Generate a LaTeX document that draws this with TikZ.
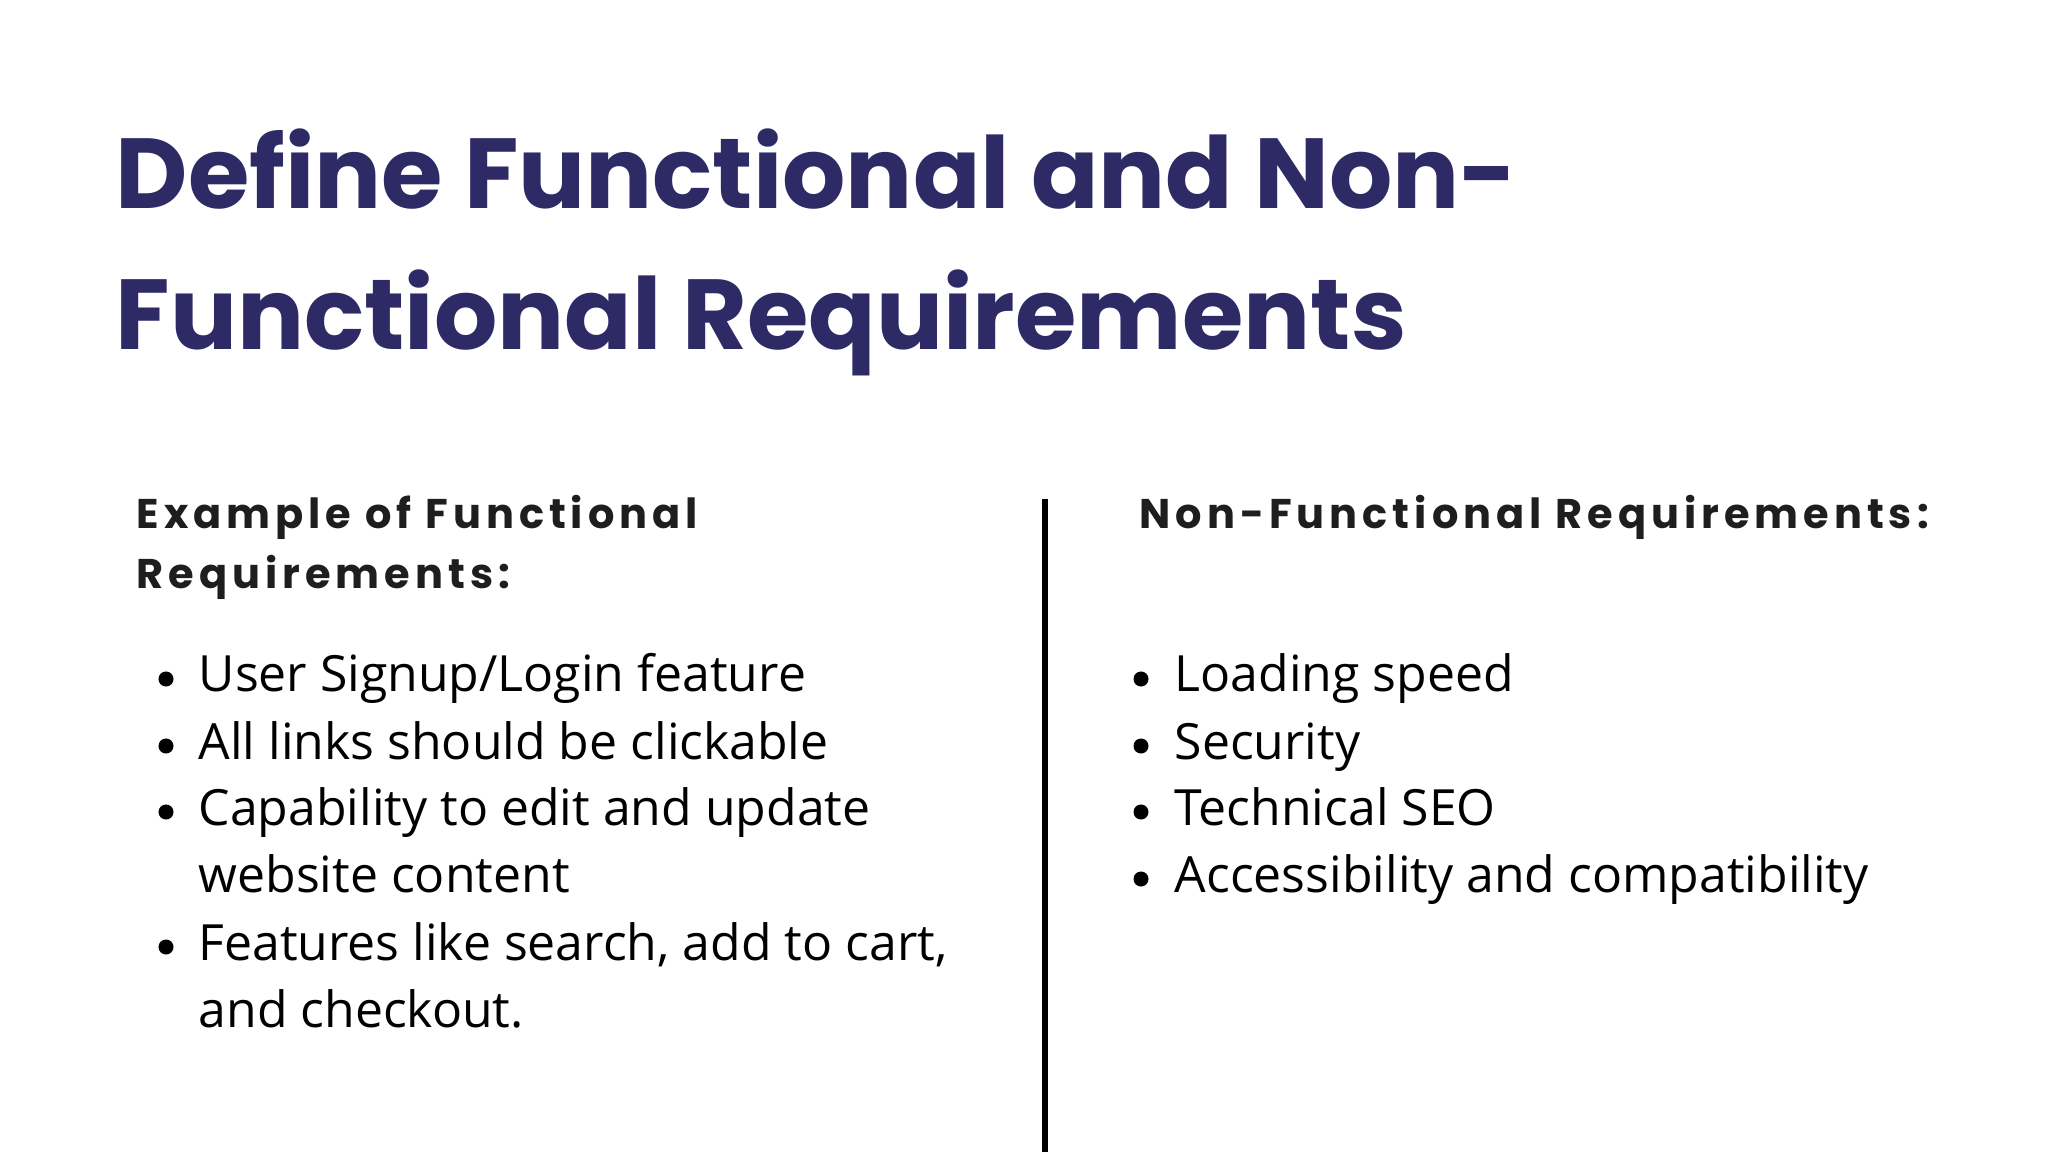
\documentclass[tikz,border=0pt]{standalone}
\usepackage{fontspec}
\setmainfont{Open Sans}
\newfontfamily\titlefont{Poppins}
\newfontfamily\headfont{Poppins}[LetterSpace=12]
\definecolor{navy}{HTML}{2E2A66}
\definecolor{ink}{HTML}{1E1E1E}
\tikzset{
  ttl/.style={anchor=base west,inner sep=0pt,text=navy,font=\titlefont\fontsize{28.3pt}{34pt}\selectfont\bfseries},
  hd/.style={anchor=base west,inner sep=0pt,text=ink,font=\headfont\fontsize{11.8pt}{14pt}\selectfont\bfseries},
  itm/.style={anchor=base west,inner sep=0pt,text=black,font=\fontsize{14.2pt}{17pt}\selectfont},
  dot/.style={circle,fill=black,inner sep=0pt,minimum size=0.15cm}
}
\begin{document}
\begin{tikzpicture}[x=0.01cm,y=-0.01cm]
\useasboundingbox[fill=white] (0,0) rectangle (2048,1152);
\node[ttl] (t1) at (115,209) {Define Functional and Non-};
\node[ttl] (t2) at (115,350) {Functional Requirements};
\node[hd] (h1) at (136,529) {Example of Functional};
\node[hd] (h2) at (136,588) {Requirements:};
\node[hd] (h3) at (1139,529) {Non-Functional Requirements:};
\coordinate (vt) at (1045,499);
\coordinate (vb) at (1045,1152);
\draw[line width=1.6pt,black] (vt) -- (vb);
\foreach \y/\t [count=\i] in {692/{User Signup/Login feature},759/{All links should be clickable},825/{Capability to edit and update},960/{Features like search, add to cart,}}{
  \node[dot] (lb\i) at (166,\y-13) {};
  \node[itm] (l\i) at (198,\y) {\t};
}
\node[itm] (l5) at (198,892) {website content};
\node[itm] (l6) at (198,1027) {and checkout.};
\foreach \y/\t [count=\i] in {692/Loading speed,759/Security,825/Technical SEO,892/Accessibility and compatibility}{
  \node[dot] (rb\i) at (1141,\y-13) {};
  \node[itm] (r\i) at (1174,\y) {\t};
}
\end{tikzpicture}
\end{document}
